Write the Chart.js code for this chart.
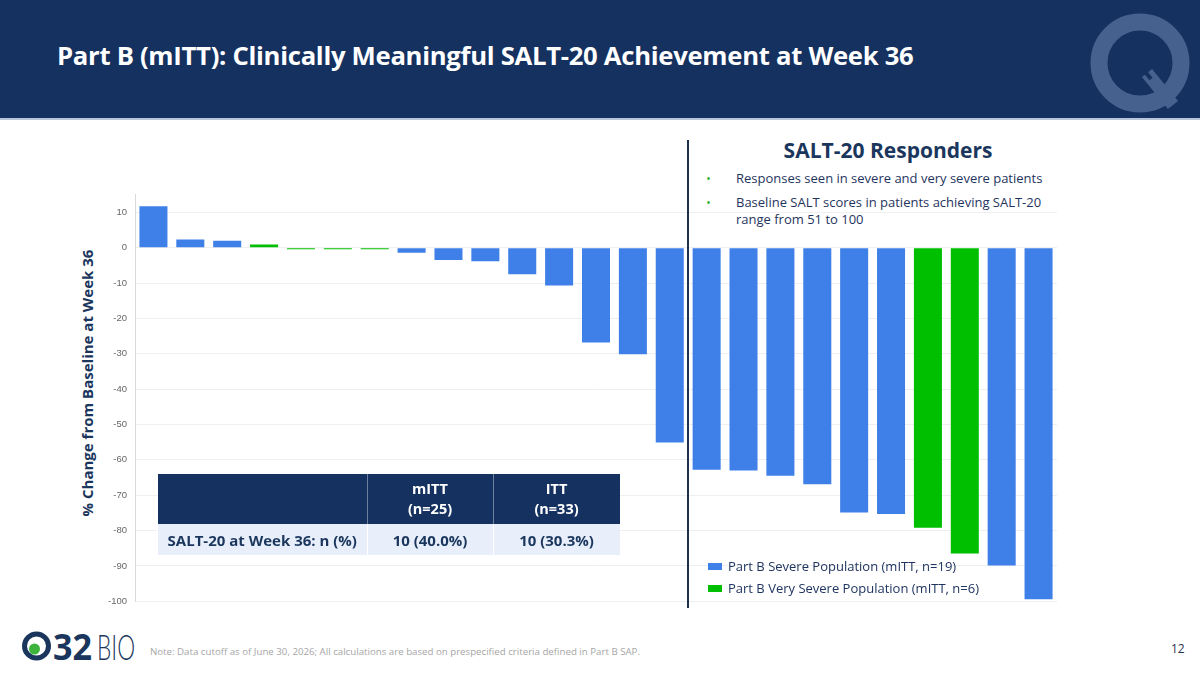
<!DOCTYPE html>
<html>
<head>
<meta charset="utf-8">
<script src="https://cdn.jsdelivr.net/npm/chart.js@4"></script>
<style>
  body { margin: 0; width: 1200px; height: 675px; position: relative; overflow: hidden; background: #fff; font-family: "Open Sans", sans-serif; }
  #header { position: absolute; left: 0; top: 0; width: 1200px; height: 118px; background: #14315f; border-bottom: 2px solid #b8c6dc; }
  #title { position: absolute; left: 57px; top: 38px; color: #fff; font-weight: 700; font-size: 25.7px; letter-spacing: -0.3px; white-space: nowrap; }
  #qmark { position: absolute; left: 1085px; top: 8px; }
  #chart-wrap { position: absolute; left: 98px; top: 181px; width: 965px; height: 434px; }
  #divider { position: absolute; left: 687px; top: 140px; width: 2px; height: 468px; background: #1f3050; }
  #yaxis-title { position: absolute; left: 87px; top: 383px; transform: translate(-50%, -50%) rotate(-90deg); white-space: nowrap; color: #1b365d; font-weight: 700; font-size: 15px; }
  #side-title { position: absolute; left: 778px; top: 136px; width: 220px; text-align: center; color: #1b365d; font-weight: 700; font-size: 21px; white-space: nowrap; }
  #bullets { position: absolute; left: 703px; top: 170px; width: 360px; margin: 0; padding: 0; list-style: none; color: #1f3560; font-size: 13px; line-height: 17px; }
  #bullets li { position: relative; padding-left: 33px; margin-bottom: 7px; }
  #bullets li::before { content: "\2022"; position: absolute; left: 3px; color: #3cb43c; }
  #legend { position: absolute; left: 708px; top: 555px; color: #1f3560; font-size: 13px; }
  .leg-item { display: flex; align-items: center; height: 22px; }
  .leg-box { width: 14px; height: 7px; margin-right: 6px; }
  #summary { position: absolute; left: 157px; top: 474px; border-collapse: collapse; font-weight: 700; }
  #summary th { background: #14315f; color: #fff; font-size: 14.5px; line-height: 20px; height: 50px; padding: 0; border-left: 1px solid #6d7f9c; }
  #summary th:first-child { border-left: none; }
  #summary td { background: #e8effa; color: #1b365d; font-size: 15px; height: 31px; padding: 0; text-align: center; border-left: 1px solid #fff; }
  #footer-logo { position: absolute; left: 20px; top: 628px; }
  #note { position: absolute; left: 150px; top: 645px; color: #a6a6a6; font-size: 9.7px; white-space: nowrap; }
  #page { position: absolute; left: 1171px; top: 640px; color: #1f3050; font-size: 12px; }
</style>
</head>
<body>
<div id="header"><div id="title">Part B (mITT): Clinically Meaningful SALT-20 Achievement at Week 36</div></div>
<svg id="qmark" width="112" height="110" viewBox="0 0 112 110">
  <circle cx="55" cy="55" r="41" fill="none" stroke="#46618e" stroke-width="17"/>
  <line x1="62" y1="65" x2="88" y2="97" stroke="#46618e" stroke-width="13"/>
  <line x1="57" y1="60" x2="66" y2="71" stroke="#14315f" stroke-width="4"/>
</svg>

<div id="side-title">SALT-20 Responders</div>
<ul id="bullets">
  <li>Responses seen in severe and very severe patients</li>
  <li>Baseline SALT scores in patients achieving SALT-20 range from 51 to 100</li>
</ul>

<div id="chart-wrap"><canvas id="waterfallChart"></canvas></div>
<div id="divider"></div>
<div id="yaxis-title">% Change from Baseline at Week 36</div>

<table id="summary">
  <tr><th style="width:209px"></th><th style="width:125px">mITT<br>(n=25)</th><th style="width:126px">ITT<br>(n=33)</th></tr>
  <tr><td>SALT-20 at Week 36: n (%)</td><td>10 (40.0%)</td><td>10 (30.3%)</td></tr>
</table>

<div id="legend"></div>

<svg id="footer-logo" width="120" height="40" viewBox="0 0 120 40">
  <circle cx="16.5" cy="18" r="12" fill="none" stroke="#1b365d" stroke-width="5"/>
  <circle cx="14.5" cy="21" r="5.5" fill="#3cb43c"/>
  <text x="33" y="32" font-family="Open Sans" font-weight="700" font-size="35" fill="#1b365d" textLength="39" lengthAdjust="spacingAndGlyphs">32</text>
  <text x="77" y="32" font-family="Lato" font-weight="300" font-size="36" fill="#1b365d" textLength="38" lengthAdjust="spacingAndGlyphs">BIO</text>
</svg>
<div id="note">Note: Data cutoff as of June 30, 2026; All calculations are based on prespecified criteria defined in Part B SAP.</div>
<div id="page">12</div>

<script>
// Data (one bar per patient, sorted)
const patients = ["1","2","3","4","5","6","7","8","9","10","11","12","13","14","15","16","17","18","19","20","21","22","23","24","25"];
const pctChange = [11.7, 2.3, 2.0, 0.95, -0.4, -0.4, -0.4, -1.4, -3.5, -3.8, -7.5, -10.7, -26.8, -30.1, -55.1, -62.8, -63.0, -64.5, -66.9, -74.9, -75.3, -79.2, -86.5, -89.9, -99.4];
const population = ["S","S","S","VS","VS","VS","VS","S","S","S","S","S","S","S","S","S","S","S","S","S","S","VS","VS","S","S"];
const yTicks = [10, 0, -10, -20, -30, -40, -50, -60, -70, -80, -90, -100];

const popLabels = {
  S: "Part B Severe Population (mITT, n=19)",
  VS: "Part B Very Severe Population (mITT, n=6)",
};
const popColors = { S: "#3f80e8", VS: "#00bf00" };

// Legend
document.getElementById("legend").innerHTML = Object.keys(popLabels)
  .map(
    (k) => `<div class="leg-item"><span class="leg-box" style="background:${popColors[k]}"></span>${popLabels[k]}</div>`
  )
  .join("");

const ctx = document.getElementById("waterfallChart").getContext("2d");
new Chart(ctx, {
  type: "bar",
  data: {
    labels: patients,
    datasets: [
      {
        data: pctChange,
        backgroundColor: population.map((p) => popColors[p]),
        borderWidth: 0,
        barPercentage: 0.76,
        categoryPercentage: 1,
      },
    ],
  },
  options: {
    responsive: true,
    maintainAspectRatio: false,
    animation: false,
    layout: { padding: { top: 0, right: 6, bottom: 0, left: 0 } },
    plugins: { legend: { display: false }, tooltip: { enabled: false } },
    scales: {
      x: { display: false, offset: true },
      y: {
        min: -100,
        max: 15,
        afterBuildTicks: (scale) => {
          scale.ticks = yTicks.map((v) => ({ value: v }));
        },
        afterFit: (scale) => {
          scale.width = 37;
        },
        grid: { color: "#efefef", drawTicks: false },
        border: { color: "#d9d9d9" },
        ticks: {
          color: "#666",
          padding: 8,
          font: { family: "Liberation Sans", size: 9.5 },
        },
      },
    },
  },
});
</script>
</body>
</html>
